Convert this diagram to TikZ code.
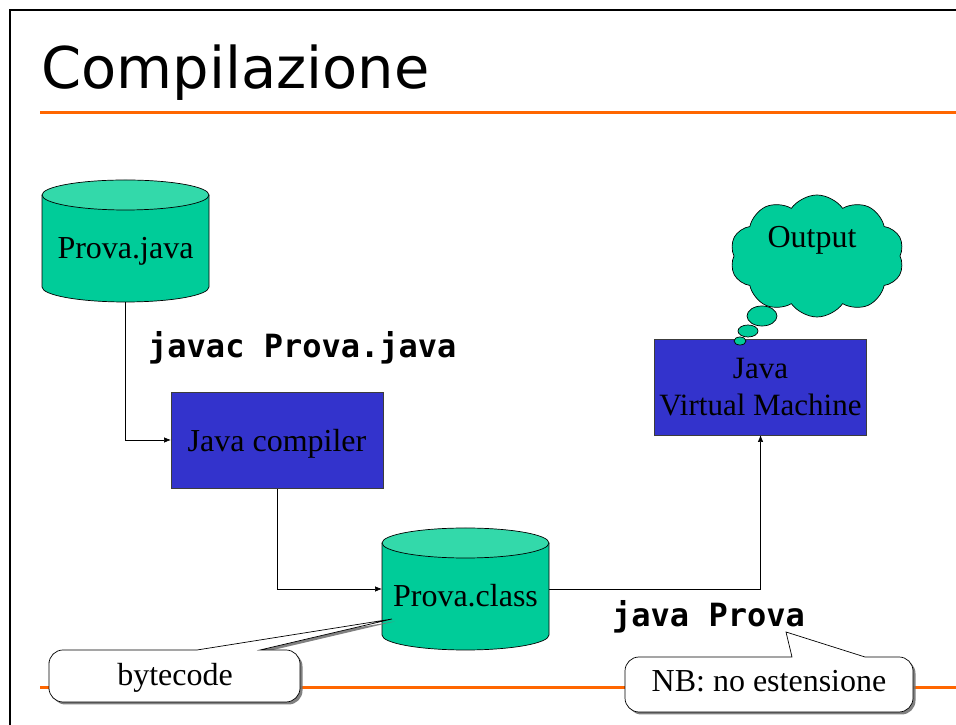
\documentclass[tikz,border=0pt]{standalone}
\usepackage{fontspec}
\setmainfont{Liberation Serif}
\newfontfamily\titlef{DejaVu Sans}
\newfontfamily\monof{DejaVu Sans Mono}
\usetikzlibrary{arrows.meta,shapes.symbols,shadows,calc}
\pgfdeclarelayer{bg}\pgfdeclarelayer{mid}\pgfsetlayers{bg,mid,main}
\definecolor{cylgreen}{RGB}{0,204,153}
\definecolor{cyltopc}{RGB}{51,217,170}
\definecolor{boxblue}{RGB}{51,51,204}
\definecolor{orangeline}{RGB}{255,102,0}
\definecolor{boxedge}{RGB}{60,60,60}
\tikzset{
 txt/.style={font=\fontsize{32}{37}\selectfont, inner sep=0pt, outer sep=0pt},
 cylnode/.style={txt, minimum width=167pt, minimum height=92pt, text height=43pt, text depth=7pt},
 bluebox/.style={txt, fill=boxblue, draw=boxedge, line width=0.8pt, minimum width=212pt, minimum height=96pt},
 conn/.style={draw=black, line width=0.7pt, -{Latex[length=7pt,width=5.5pt]}},
 cmd/.style={font=\monof\bfseries\fontsize{32}{36}\selectfont, inner sep=0pt, anchor=base west},
 rulestyle/.style={draw=orangeline, line width=3pt},
 callbody/.style={fill=white, draw=black, line width=0.7pt, drop shadow={shadow xshift=2.5pt, shadow yshift=-2.5pt, fill=black!55, opacity=0.9}},
 bubble/.style={fill=cylgreen, draw=black, line width=0.7pt},
 cylbody/.style={fill=cylgreen},
 cyledge/.style={draw=black, line width=0.7pt},
 cyltop/.style={fill=cyltopc, draw=black, line width=0.7pt}
}
\newcommand\cylshape[1]{%
 \fill[cylbody] (#1.north west) -- (#1.south west) arc[start angle=180, end angle=360, x radius=83.5pt, y radius=15pt] -- (#1.north east) -- cycle;
 \draw[cyledge] (#1.north west) -- (#1.south west) arc[start angle=180, end angle=360, x radius=83.5pt, y radius=15pt] -- (#1.north east);
 \filldraw[cyltop] (#1.north) ellipse [x radius=83.5pt, y radius=15pt];
}
\begin{document}
\begin{tikzpicture}[x=1pt,y=1pt]
\useasboundingbox (0,0) rectangle (956,725);
% frame and title
\draw[line width=2pt] (9.5,-10) -- (9.5,715) -- (970,715);
\node[anchor=base west, inner sep=0pt, font=\titlef\fontsize{57.5}{60}\selectfont] (title) at (41,636) {Compilazione};
% nodes
\node[cylnode] (pj) at (125.5,484) {Prova.java};
\node[cylnode] (pc) at (465.5,136) {Prova.class};
\node[bluebox, text height=31pt, text depth=7pt] (jc) at (277,285) {Java compiler};
\node[bluebox, align=center, font=\fontsize{31}{37}\selectfont] (jvm) at (760.5,338) {Java\\Virtual Machine};
\node[cmd] (javac) at (148,367) {javac Prova.java};
\node[cmd] (javarun) at (612,98) {java Prova};
% cloud
\node[cloud, cloud puffs=10, cloud puff arc=110, aspect=1.43, minimum width=174pt, minimum height=122pt, inner sep=0pt, fill=cylgreen, draw=black, line width=0.7pt] (cl) at (817,469) {};
\node[txt, anchor=base] (out) at ($(cl.center)+(-5,8)$) {Output};
\path[bubble] (762,409) ellipse [x radius=15pt, y radius=10pt];
\path[bubble] (748,394) ellipse [x radius=10pt, y radius=6pt];
\path[bubble] (740,384) ellipse [x radius=6pt, y radius=4pt];
% callout texts
\node[txt, anchor=base] (bc) at (175,39) {bytecode};
\node[txt, anchor=base] (nb) at (769,33) {NB: no estensione};
\coordinate (bctip) at (392,106);
\coordinate (nbtip) at (786,93);
% background: rules and connectors
\begin{pgfonlayer}{bg}
\draw[rulestyle] (40,612) -- (956,612);
\draw[rulestyle] (40,37) -- (956,37);
\draw[conn] (pj.south) |- (jc.west);
\draw[conn] (jc.south) |- (pc.west);
\draw[conn] (pc.east) -| (jvm.south);
\end{pgfonlayer}
% middle: cylinders and callouts
\begin{pgfonlayer}{mid}
\cylshape{pj}
\cylshape{pc}
\path[callbody] (49,49) [rounded corners=14pt] |- (180,75) [sharp corners] -- (197,75) -- (bctip) -- (260,75) -- (280,75) [rounded corners=14pt] -| (300,23) -| (49,49) -- cycle;
\path[callbody] (625,40) [rounded corners=14pt] |- (775,68) [sharp corners] -- (792,68) -- (nbtip) -- (865,68) -- (880,68) [rounded corners=14pt] -| (913,13) -| (625,40) -- cycle;
\end{pgfonlayer}
\end{tikzpicture}
\end{document}
